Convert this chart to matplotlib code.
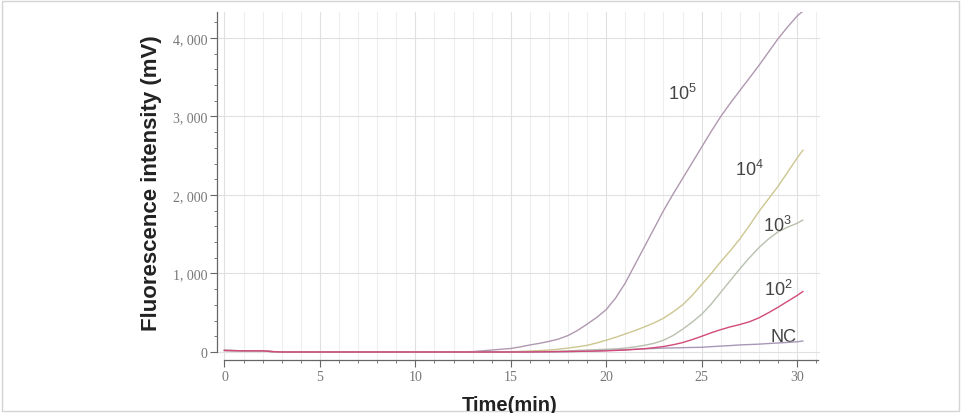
import matplotlib.pyplot as plt
from matplotlib.ticker import MultipleLocator, FuncFormatter
from matplotlib.patches import Rectangle

# time points (min)
t = [0, 1, 2, 2.5, 3, 5, 8, 10, 12, 13, 14,
     14.5, 15, 15.5, 16, 16.5, 17, 17.5, 18, 18.5, 19, 19.5, 20, 20.5, 21, 21.5,
     22, 22.5, 23, 23.5, 24, 24.5, 25, 25.5, 26, 26.5, 27, 27.5, 28, 28.5, 29,
     29.5, 30, 30.3]

c1e5 = [20, 15, 15, 5, 0, 0, 0, 0, 0, 5, 25,
        35, 45, 65, 90, 110, 135, 165, 210, 275, 355, 440, 540, 690, 880, 1110,
        1340, 1570, 1800, 2010, 2210, 2410, 2610, 2810, 3000, 3170, 3330, 3490,
        3650, 3820, 3990, 4140, 4280, 4340]
c1e4 = [20, 15, 15, 5, 0, 0, 0, 0, 0, 0, 2,
        3, 5, 8, 12, 18, 25, 36, 50, 66, 85, 115, 150, 188, 230, 272,
        320, 370, 430, 510, 600, 720, 860, 1000, 1150, 1290, 1440, 1610,
        1790, 1950, 2110, 2290, 2470, 2570]
c1e3 = [20, 15, 15, 5, 0, 0, 0, 0, 0, 0, 0,
        1, 2, 3, 4, 5, 6, 10, 15, 20, 25, 30, 35, 40, 50, 65,
        85, 110, 150, 210, 290, 380, 480, 610, 760, 910, 1060, 1200,
        1330, 1440, 1530, 1590, 1640, 1680]
c1e2 = [20, 15, 15, 5, 0, 0, 0, 0, 0, 0, 0,
        0, 0, 0, 1, 2, 4, 5, 6, 8, 10, 12, 15, 20, 25, 33,
        42, 55, 70, 92, 120, 158, 200, 245, 285, 320, 350, 385,
        435, 500, 570, 645, 720, 770]
nc = [20, 15, 15, 5, 0, 0, 0, 0, 0, 0, 0,
      0, 0, 0, 0, 0, 0, 2, 5, 8, 10, 15, 20, 25, 30, 35,
      40, 45, 50, 52, 55, 58, 60, 68, 75, 82, 90, 95,
      100, 108, 115, 122, 130, 140]

names = [r"$\mathregular{10^5}$", r"$\mathregular{10^4}$", r"$\mathregular{10^3}$",
         r"$\mathregular{10^2}$", "NC"]
curves = [c1e5, c1e4, c1e3, c1e2, nc]
colors = ["#b098b0", "#ccc690", "#b8c0ae", "#d24a78", "#a898b8"]
zorders = [3, 3, 3, 5, 4]
label_pos = [(23.26, 3223), (26.77, 2255), (28.19, 1541), (28.24, 726), (28.6, 140)]

plt.rcParams['mathtext.fontset'] = 'custom'
plt.rcParams['mathtext.rm'] = 'Liberation Sans'

fig = plt.figure(figsize=(9.61, 4.14), dpi=100)
ax = fig.add_axes([0.2258, 0.128, 0.6275, 0.8406])

for name, y, col, z, pos in zip(names, curves, colors, zorders, label_pos):
    ax.plot(t, y, color=col, lw=1.0, zorder=z)
    ax.text(pos[0], pos[1], name, fontsize=13, color="#444444",
            family="Liberation Sans", ha="left", va="baseline")

ax.set_xlim(-0.39, 31.2)
ax.set_ylim(-102, 4331)
ax.xaxis.set_major_locator(MultipleLocator(5))
ax.xaxis.set_minor_locator(MultipleLocator(1))
ax.yaxis.set_major_locator(MultipleLocator(1000))
ax.yaxis.set_minor_locator(MultipleLocator(200))
ax.yaxis.set_major_formatter(FuncFormatter(lambda v, p: f"{int(v):,}".replace(",", ", ")))

ax.grid(which="major", axis="both", color="#e0e0e0", lw=0.8)
ax.grid(which="minor", axis="x", color="#eeeeee", lw=0.8)
ax.set_axisbelow(True)

for s in ["top", "right"]:
    ax.spines[s].set_visible(False)
ax.spines["left"].set_bounds(0, 4331)
ax.spines["bottom"].set_bounds(0, 31.1)
for s in ["left", "bottom"]:
    ax.spines[s].set_color("#666666")
    ax.spines[s].set_linewidth(0.9)

ax.tick_params(which="major", length=5, color="#666666", labelcolor="#777777",
               labelsize=10, pad=2)
ax.tick_params(which="minor", length=2.5, color="#666666")
for lbl in ax.get_xticklabels() + ax.get_yticklabels():
    lbl.set_family("Liberation Serif")

fig.text(151 / 961, 0.558, "Fluorescence intensity (mV)", rotation=90,
         fontsize=16, fontweight="bold", family="Liberation Sans",
         ha="center", va="center", color="#222222")
fig.text(510 / 961, 0.008, "Time(min)", fontsize=14.5, fontweight="bold",
         family="Liberation Sans", ha="center", va="baseline", color="#222222")

fig.patches.append(Rectangle((0.002, 0.004), 0.996, 0.992, transform=fig.transFigure,
                             fill=False, edgecolor="#d4d4d4", lw=1))

plt.savefig("out.png", dpi=100)
plt.close()
